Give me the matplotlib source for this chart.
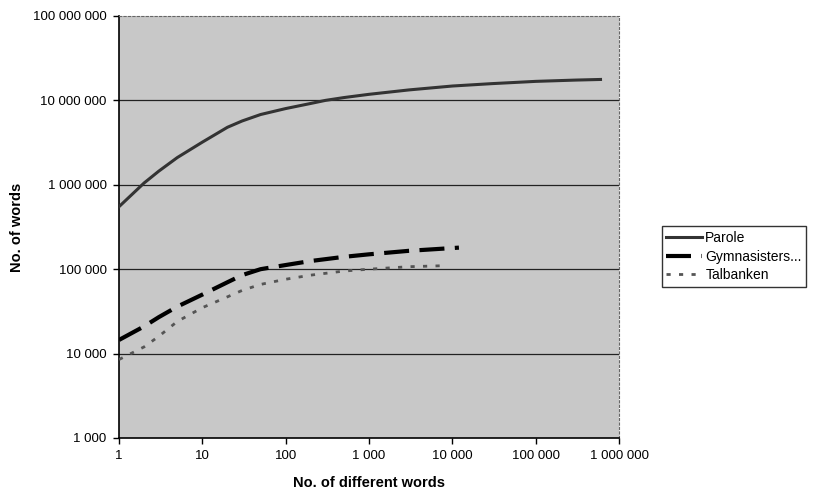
import matplotlib
matplotlib.use('Agg')
import matplotlib.pyplot as plt
from matplotlib.ticker import FixedLocator, NullLocator

plt.rcParams['font.family'] = ['Liberation Sans', 'DejaVu Sans']

# data
parole_x = [1, 2, 3, 5, 10, 20, 30, 50, 100, 200, 300, 500, 1000, 3000, 10000, 30000, 100000, 300000, 600000]
parole_y = [5.5e5, 1.05e6, 1.45e6, 2.1e6, 3.2e6, 4.8e6, 5.7e6, 6.8e6, 8.0e6, 9.2e6, 1.0e7, 1.08e7, 1.18e7, 1.33e7, 1.48e7, 1.58e7, 1.68e7, 1.74e7, 1.77e7]
gym_x = [1, 2, 3, 5, 10, 20, 30, 50, 100, 200, 500, 1000, 3000, 12000]
gym_y = [1.45e4, 2.1e4, 2.7e4, 3.6e4, 5.0e4, 7.0e4, 8.5e4, 1.0e5, 1.12e5, 1.25e5, 1.4e5, 1.5e5, 1.65e5, 1.8e5]
tal_x = [1, 2, 3, 5, 10, 20, 30, 50, 100, 200, 500, 1000, 3000, 8000]
tal_y = [8.5e3, 1.2e4, 1.6e4, 2.4e4, 3.5e4, 4.7e4, 5.6e4, 6.6e4, 7.6e4, 8.5e4, 9.5e4, 1.0e5, 1.07e5, 1.1e5]
labels = ['Parole', 'Gymnasisters...', 'Talbanken']

x_ticks = [1, 10, 100, 1000, 10000, 100000, 1000000]
x_labels = ['1', '10', '100', '1 000', '10 000', '100 000', '1 000 000']
y_ticks = [1e3, 1e4, 1e5, 1e6, 1e7, 1e8]
y_labels = ['1 000', '10 000', '100 000', '1 000 000', '10 000 000', '100 000 000']

fig = plt.figure(figsize=(8.19, 4.92), dpi=100)
ax = fig.add_axes([0.1453, 0.1098, 0.6105, 0.8577])
ax.set_facecolor('#c8c8c8')
ax.set_xscale('log')
ax.set_yscale('log')
ax.set_xlim(1, 1e6)
ax.set_ylim(1e3, 1e8)

# horizontal gridlines
for yv in y_ticks[1:-1]:
    ax.axhline(yv, color='#222222', lw=0.9, zorder=1)

ax.plot(parole_x, parole_y, color='#333333', lw=2.2, label=labels[0], zorder=3)
ax.plot(gym_x, gym_y, color='black', lw=3, dashes=(6, 2.5), label=labels[1], zorder=3)
ax.plot(tal_x, tal_y, color='#555555', lw=2, dashes=(1.5, 3), label=labels[2], zorder=3)

ax.xaxis.set_major_locator(FixedLocator(x_ticks))
ax.xaxis.set_minor_locator(NullLocator())
ax.set_xticklabels(x_labels)
ax.yaxis.set_major_locator(FixedLocator(y_ticks))
ax.yaxis.set_minor_locator(NullLocator())
ax.set_yticklabels(y_labels)
ax.tick_params(labelsize=9.5, length=4, width=1, direction='out', pad=5)

for s in ['top', 'right']:
    ax.spines[s].set_linestyle((0, (2, 2)))
    ax.spines[s].set_color('#666666')
ax.spines['left'].set_linewidth(1.2)
ax.spines['bottom'].set_linewidth(1.2)

ax.set_xlabel('No. of different words', fontsize=10.5, fontweight='bold', labelpad=10)
ax.set_ylabel('No. of words', fontsize=10.5, fontweight='bold')
ax.yaxis.set_label_coords(-0.19, 0.5)

leg = ax.legend(loc='center left', bbox_to_anchor=(1.085, 0.43), fontsize=10,
                frameon=True, fancybox=False, edgecolor='black', borderpad=0.35,
                handlelength=2.6, handletextpad=0.2, labelspacing=0.3, borderaxespad=0)
leg.get_frame().set_linewidth(1)

fig.savefig('out.png', dpi=100)
